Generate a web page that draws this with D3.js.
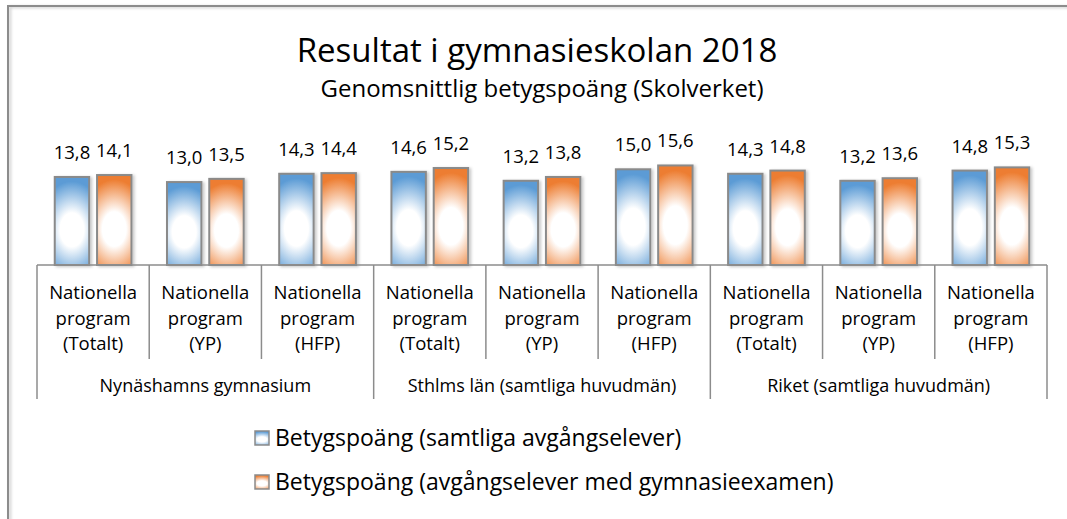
<!DOCTYPE html>
<html>
  <head>
    <meta charset="utf-8">
    <title>Resultat i gymnasieskolan 2018</title>
    <script src="https://d3js.org/d3.v7.min.js"></script>
    <style>
      body { margin: 0; background: #ffffff; }
      text { font-family: "Open Sans", "Noto Sans", sans-serif; fill: #000000; }
    </style>
  </head>
  <body>
    <svg width="1067" height="519" id="mainsvg"></svg>
    <script>
        // data
        const groups = ['Nynäshamns gymnasium', 'Sthlms län (samtliga huvudmän)', 'Riket (samtliga huvudmän)'];
        const programs = ['(Totalt)', '(YP)', '(HFP)'];
        const seriesNames = ['Betygspoäng (samtliga avgångselever)', 'Betygspoäng (avgångselever med gymnasieexamen)'];
        const allaElever = [13.8, 13.0, 14.3, 14.6, 13.2, 15.0, 14.3, 13.2, 14.8];
        const medExamen  = [14.1, 13.5, 14.4, 15.2, 13.8, 15.6, 14.8, 13.6, 15.3];
        const titleText = 'Resultat i gymnasieskolan 2018';
        const subtitleText = 'Genomsnittlig betygspoäng (Skolverket)';

        const svg = d3.select('#mainsvg');
        const width = +svg.attr('width');
        const margin = {left: 37, right: 20, axisY: 265};
        const seriesColor = ['#5b9bd5', '#ed7d31'];

        // one row per category (group x program)
        const cats = [];
        groups.forEach((g, gi) => programs.forEach((p, pi) => {
            const i = gi * programs.length + pi;
            cats.push({id: i, group: g, program: p, values: [allaElever[i], medExamen[i]]});
        }));

        const sv = d3.formatLocale({decimal: ',', thousands: ' ', grouping: [3], currency: ['', ' kr']}).format('.1f');

        // gradients: white glow a bit below the middle of each bar
        const defs = svg.append('defs');
        seriesColor.forEach((c, i) => {
            const rg = defs.append('radialGradient').attr('id', 'grad' + i)
                .attr('cx', 0.5).attr('cy', 0.6).attr('r', 0.55).attr('fx', 0.5).attr('fy', 0.6)
                .attr('gradientTransform', 'translate(0.5,0.6) scale(1.8,1) translate(-0.5,-0.6)');
            rg.append('stop').attr('offset', '0%').attr('stop-color', '#ffffff');
            rg.append('stop').attr('offset', '35%').attr('stop-color', '#ffffff');
            rg.append('stop').attr('offset', '100%').attr('stop-color', c);
        });
        const shadow = defs.append('filter').attr('id', 'shadow').attr('x', '-20%').attr('y', '-20%').attr('width', '150%').attr('height', '140%');
        shadow.append('feDropShadow').attr('dx', 2).attr('dy', 1).attr('stdDeviation', 1.5).attr('flood-color', '#000').attr('flood-opacity', 0.22);

        // chart frame (only top and left edges are in view)
        svg.append('path')
            .attr('d', `M8,${width + 10} L8,6 L${width + 10},6`)
            .attr('fill', 'none').attr('stroke', '#8c8c8c').attr('stroke-width', 2)
            .attr('filter', 'url(#shadow)');

        // scales
        const xScale = d3.scaleBand().domain(cats.map(d => d.id)).range([margin.left, 1047]);
        const xSub = d3.scaleBand().domain([0, 1]).range([0, xScale.bandwidth()])
            .paddingInner(0.186).paddingOuter(0.42);
        const yScale = d3.scaleLinear().domain([0, 16]).range([margin.axisY, margin.axisY - 6.38 * 16]);

        // titles
        svg.append('text').attr('x', 537).attr('y', 62).attr('text-anchor', 'middle')
            .attr('font-size', 33).text(titleText);
        svg.append('text').attr('x', 542).attr('y', 97).attr('text-anchor', 'middle')
            .attr('font-size', 24).text(subtitleText);

        // bars
        const g = svg.append('g').attr('id', 'maingroup');
        const catG = g.selectAll('.cat').data(cats).join('g')
            .attr('class', 'cat')
            .attr('transform', d => `translate(${xScale(d.id)},0)`);

        catG.selectAll('rect').data(d => d.values.map((v, s) => ({v, s}))).join('rect')
            .attr('x', d => xSub(d.s))
            .attr('y', d => yScale(d.v))
            .attr('width', xSub.bandwidth())
            .attr('height', d => yScale(0) - yScale(d.v))
            .attr('fill', d => `url(#grad${d.s})`)
            .attr('stroke', '#8a8a8a').attr('stroke-width', 2)
            .attr('filter', 'url(#shadow)');

        catG.selectAll('.lbl').data(d => d.values.map((v, s) => ({v, s}))).join('text')
            .attr('class', 'lbl')
            .attr('x', d => xSub(d.s) + xSub.bandwidth() / 2)
            .attr('y', d => yScale(d.v) - 18)
            .attr('text-anchor', 'middle')
            .attr('font-size', 18.5)
            .text(d => sv(d.v));

        // multi-level category axis
        const axisG = svg.append('g').attr('id', 'xaxis').attr('stroke', '#8c8c8c').attr('stroke-width', 1.5);
        axisG.append('line')
            .attr('x1', xScale.range()[0]).attr('x2', xScale.range()[1])
            .attr('y1', margin.axisY).attr('y2', margin.axisY);
        const bounds = d3.range(cats.length + 1).map(i => xScale.range()[0] + i * xScale.step());
        axisG.selectAll('.tick').data(bounds).join('line')
            .attr('class', 'tick')
            .attr('x1', d => d).attr('x2', d => d)
            .attr('y1', margin.axisY)
            .attr('y2', (d, i) => i % programs.length === 0 ? 399 : 359);

        const catLabels = svg.append('g').selectAll('text').data(cats).join('text')
            .attr('x', d => xScale(d.id) + xScale.bandwidth() / 2)
            .attr('text-anchor', 'middle')
            .attr('font-size', 18.5);
        catLabels.selectAll('tspan').data(d => ['Nationella', 'program', d.program]).join('tspan')
            .attr('x', function() { return d3.select(this.parentNode).attr('x'); })
            .attr('y', (d, i) => 299 + i * 25.5)
            .text(d => d);

        svg.append('g').selectAll('text').data(groups).join('text')
            .attr('x', (d, i) => (bounds[i * 3] + bounds[i * 3 + 3]) / 2)
            .attr('y', 392)
            .attr('text-anchor', 'middle')
            .attr('font-size', 18)
            .text(d => d);

        // legend
        const legend = svg.append('g').selectAll('g').data(seriesNames).join('g')
            .attr('transform', (d, i) => `translate(255,${431 + i * 44})`);
        legend.append('rect')
            .attr('width', 14).attr('height', 14)
            .attr('fill', (d, i) => `url(#grad${i})`)
            .attr('stroke', '#8a8a8a').attr('stroke-width', 1.5);
        legend.append('text')
            .attr('x', 20).attr('y', 15)
            .attr('font-size', 23)
            .text(d => d);
    </script>
  </body>
</html>
